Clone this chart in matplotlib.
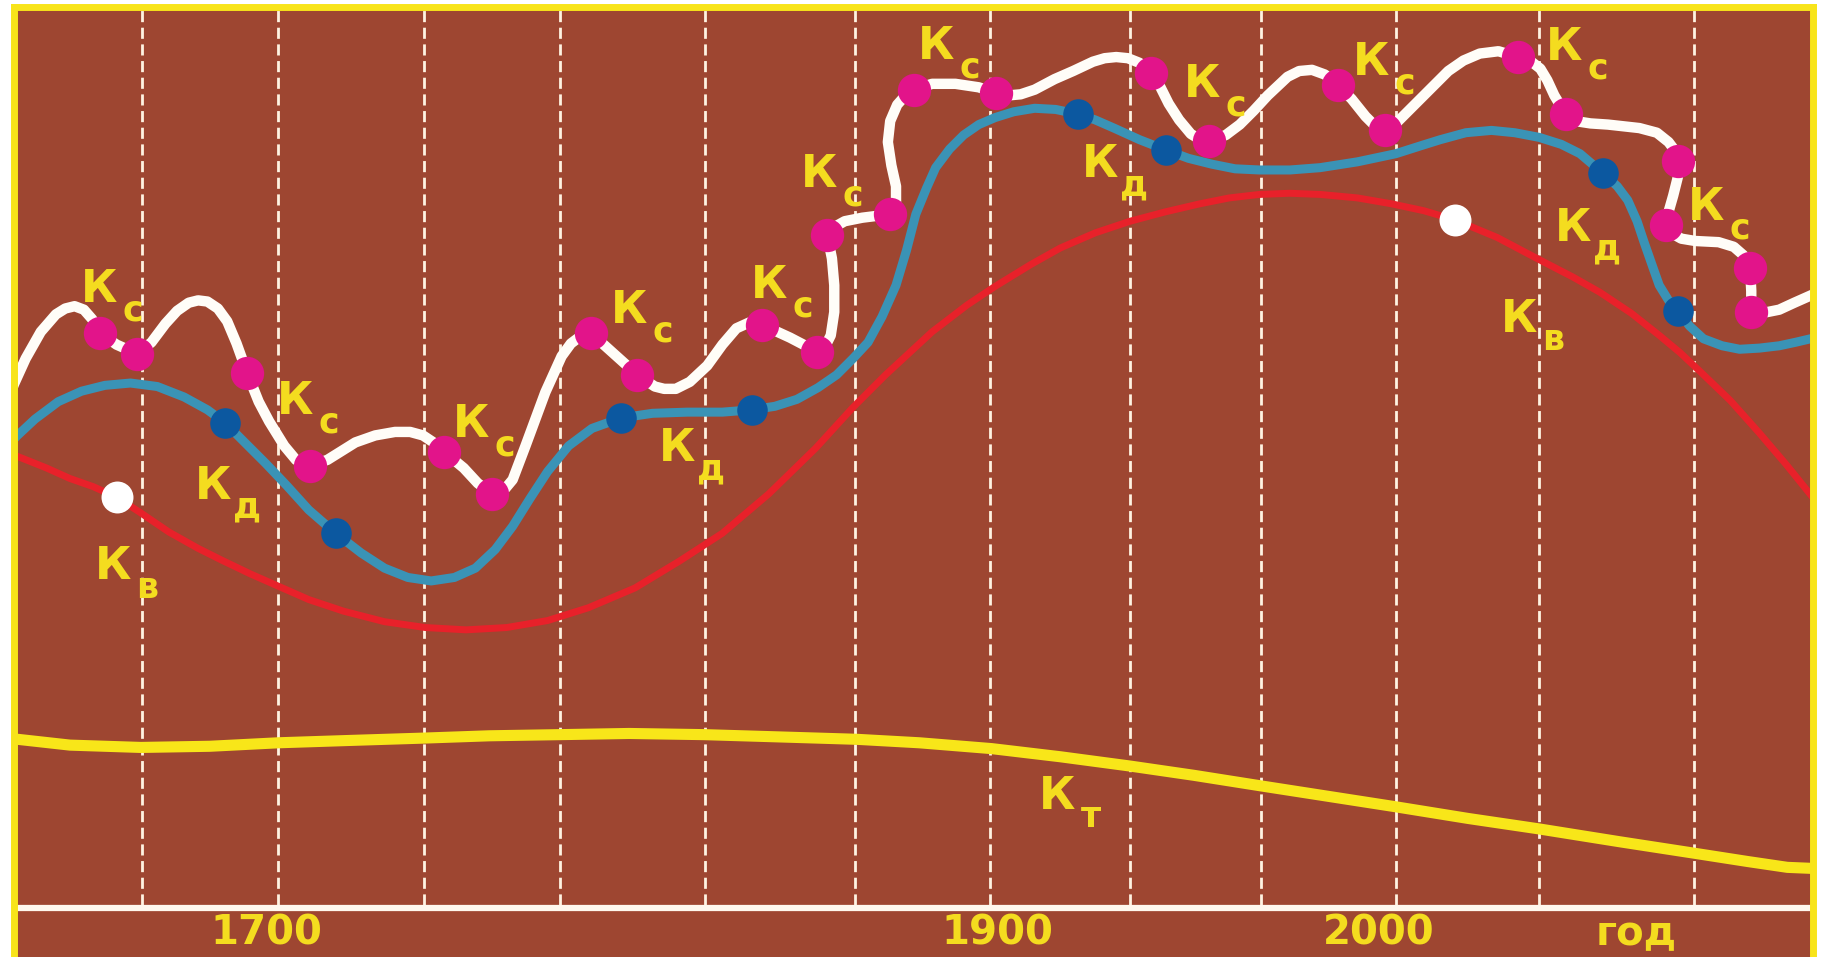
import matplotlib
matplotlib.use('Agg')
from matplotlib import pyplot as plt

# curve readings (x along the time band, y measured down from the top edge)
kc_x = [5, 12, 22, 35, 48, 56, 64, 72, 79, 86, 100, 118, 130, 142, 152, 162, 170, 178, 187, 195,
        203, 212, 222, 231, 244, 254, 266, 281, 305, 322, 339, 352, 363, 372, 381, 398, 410,
        422, 430, 440, 451, 468, 482, 490, 498, 507, 527, 547, 562, 570, 580, 592, 607, 620,
        632, 643, 654, 678, 701, 708, 713, 716, 716, 714, 710, 716, 725, 740, 764, 769, 769,
        765, 762, 764, 770, 778, 784, 800, 820, 840, 855, 865, 876, 888, 905, 921, 938, 948,
        958, 968, 978, 988, 996, 1003, 1012, 1022, 1030, 1038, 1052, 1064, 1076, 1088, 1105,
        1115, 1126, 1137, 1148, 1160, 1172, 1180, 1189, 1196, 1205, 1215, 1230, 1243, 1256,
        1270, 1286, 1303, 1313, 1322, 1328, 1334, 1340, 1344, 1352, 1365, 1380, 1407, 1422,
        1432, 1438, 1440, 1440, 1436, 1432, 1430, 1434, 1443, 1455, 1475, 1488, 1496, 1500,
        1502, 1503, 1503, 1512, 1527, 1540, 1558]
kc_y = [348, 330, 308, 285, 270, 265, 263, 266, 274, 286, 296, 304, 294, 278, 267, 260, 258, 259, 265, 276,
        295, 320, 345, 362, 383, 395, 400, 395, 380, 374, 371, 371, 374, 380, 388, 402, 415,
        424, 424, 412, 383, 337, 306, 295, 289, 286, 304, 322, 332, 334, 334, 328, 314, 296,
        282, 277, 279, 290, 302, 298, 288, 268, 245, 222, 202, 195, 190, 187, 184, 175, 160,
        142, 122, 104, 90, 81, 77, 72, 72, 75, 80, 82, 81, 77, 68, 61, 53, 50,
        49, 50, 54, 63, 75, 89, 103, 115, 120, 121, 116, 107, 95, 82, 66,
        61, 60, 64, 73, 85, 100, 108, 112, 108, 99, 89, 74, 61, 52,
        46, 44, 49, 52, 59, 69, 82, 92, 98, 104, 106, 107, 110, 114,
        122, 130, 138, 152, 168, 182, 193, 200, 205, 207, 208, 212, 219, 225,
        230, 250, 268, 269, 266, 260, 252]
kc_dots_x = [86, 118, 212, 266, 381, 422, 507, 547, 654, 701, 710, 764, 784, 855, 988, 1038,
             1148, 1189, 1303, 1344, 1440, 1430, 1502, 1503]
kc_dots_y = [286, 304, 320, 400, 388, 424, 286, 322, 279, 302, 202, 184, 77, 80, 63, 121,
             73, 112, 49, 98, 138, 193, 230, 268]

kd_x = [5, 15, 30, 50, 70, 90, 112, 135, 158, 178, 193, 210, 228, 246, 265, 288, 310, 330, 350,
        370, 390, 408, 425, 440, 455, 470, 488, 508, 533, 560, 590, 620, 645, 665, 684, 702,
        718, 732, 745, 757, 769, 778, 786, 795, 803, 815, 827, 840, 854, 870, 888, 906, 925,
        940, 956, 978, 1001, 1020, 1040, 1060, 1081, 1107, 1133, 1165, 1198, 1220, 1236, 1258,
        1280, 1300, 1321, 1340, 1356, 1376, 1388, 1397, 1405, 1411, 1418, 1424, 1432, 1440,
        1450, 1462, 1478, 1493, 1510, 1527, 1541, 1558]
kd_y = [384, 374, 360, 345, 336, 331, 329, 332, 341, 352, 363, 380, 398, 417, 438, 458, 475, 488, 496,
        499, 496, 488, 472, 452, 428, 405, 383, 368, 359, 355, 354, 354, 352, 349, 343, 333,
        322, 308, 294, 272, 245, 215, 184, 162, 144, 128, 116, 107, 101, 96, 93, 94, 98,
        103, 110, 120, 129, 136, 141, 145, 146, 146, 144, 139, 132, 125, 120, 114,
        112, 114, 118, 124, 132, 149, 160, 172, 190, 208, 228, 245, 258, 267,
        280, 291, 297, 300, 299, 297, 294, 290]
kd_dots_x = [193, 288, 533, 645, 925, 1001, 1376, 1440]
kd_dots_y = [363, 458, 359, 352, 98, 129, 149, 267]

kv_x = [5, 20, 40, 60, 80, 100, 120, 145, 170, 190, 215, 240, 265, 295, 330, 365, 400, 435, 470,
        505, 545, 583, 620, 660, 700, 732, 760, 800, 830, 854, 885, 910, 940, 970, 1000, 1030,
        1055, 1081, 1107, 1133, 1165, 1194, 1222, 1249, 1285, 1321, 1350, 1373, 1400, 1424,
        1442, 1459, 1485, 1510, 1533, 1558]
kv_y = [388, 394, 402, 411, 418, 427, 440, 457, 471, 481, 493, 504, 515, 525, 534, 539, 541, 539, 533,
        522, 505, 482, 458, 424, 385, 350, 322, 285, 262, 246, 227, 213, 200, 190, 182, 175,
        170, 167, 166, 167, 170, 175, 181, 189, 204, 223, 238, 251, 269, 288,
        303, 319, 344, 372, 399, 430]
kv_dots_x = [100, 1249]
kv_dots_y = [427, 189]

kt_x = [5, 15, 60, 121, 180, 239, 300, 363, 420, 481, 540, 604, 670, 735, 789, 851, 910, 970,
        1025, 1082, 1140, 1198, 1260, 1321, 1390, 1455, 1500, 1534, 1558]
kt_y = [634, 635, 640, 642, 641, 638, 636, 634, 632, 631, 630, 631, 633, 635, 638, 643, 650, 658,
        666, 675, 684, 693, 703, 712, 723, 733, 740, 745, 746]

grid_x = [122, 239, 364, 481, 605, 734, 850, 970, 1082, 1198, 1321, 1454]

year_labels = ['1700', '1900', '2000', 'год']
year_x = [229, 856, 1183, 1404]

# curve labels: subscript letter and where the "К" sits
label_sub = ['с', 'с', 'с', 'с', 'с', 'с', 'с', 'с', 'с', 'с', 'с',
             'д', 'д', 'д', 'д', 'в', 'в', 'т']
label_x = [85, 253, 404, 540, 660, 703, 803, 1032, 1177, 1342, 1464,
           183, 581, 944, 1350, 97, 1304, 907]
label_y = [249, 345, 365, 267, 245, 150, 40, 73, 54, 41, 178,
           418, 385, 141, 196, 487, 274, 684]

brown = '#9E4631'
yellow = '#F8E41A'
text_yellow = '#F4DC1F'

fig = plt.figure(figsize=(18.27, 9.57), dpi=100, facecolor='white')
W, H = 1568.0, 822.0
x0, x1, y_top = 11.6, 1556.4, 5.6
ax = fig.add_axes([x0 / W, 0, (x1 - x0) / W, 1 - y_top / H])
ax.set_facecolor(brown)
ax.set_xlim(x0, x1)
ax.set_ylim(H, y_top)
ax.set_xticks([])
ax.set_yticks([])
for side in ['left', 'right', 'top']:
    ax.spines[side].set_color(yellow)
    ax.spines[side].set_linewidth(5)
    ax.spines[side].set_capstyle('projecting')
    ax.spines[side].set_zorder(10)
ax.spines['bottom'].set_visible(False)

# dashed period lines and the time axis
ax.vlines(grid_x, 777, y_top, colors='#FFF3E2', linewidth=2, linestyles=(0, (4, 2)), zorder=1)
ax.axhline(780, color='#FFF8EE', linewidth=4.5, zorder=1)

ax.plot(kt_x, kt_y, color='#F8E619', linewidth=8, solid_capstyle='round', solid_joinstyle='round', zorder=2)
ax.plot(kv_x, kv_y, color='#E8212A', linewidth=5, solid_capstyle='round', solid_joinstyle='round', zorder=3)
ax.plot(kv_dots_x, kv_dots_y, 'o', color='white', markersize=23, markeredgewidth=0, zorder=3.5)
ax.plot(kd_x, kd_y, color='#3A93B6', linewidth=6.5, solid_capstyle='round', solid_joinstyle='round', zorder=4)
ax.plot(kd_dots_x, kd_dots_y, 'o', color='#0C58A0', markersize=22, markeredgewidth=0, zorder=4.5)
ax.plot(kc_x, kc_y, color='#FFFDF8', linewidth=7.5, solid_capstyle='round', solid_joinstyle='round', zorder=5)
ax.plot(kc_dots_x, kc_dots_y, 'o', color='#E2148A', markersize=24, markeredgewidth=0, zorder=5.5)

for sub, lx, ly in zip(label_sub, label_x, label_y):
    ax.text(lx, ly, 'К', color=text_yellow, fontsize=32, fontweight='bold',
            ha='center', va='center', zorder=6)
    ax.text(lx + 29, ly + 18, sub, color=text_yellow, fontsize=25, fontweight='bold',
            ha='center', va='center', zorder=6)

for lab, lx in zip(year_labels, year_x):
    ax.text(lx, 802, lab, color=text_yellow, fontsize=29, fontweight='bold',
            ha='center', va='center', zorder=6)

fig.savefig('out.png', dpi=100, facecolor='white')
